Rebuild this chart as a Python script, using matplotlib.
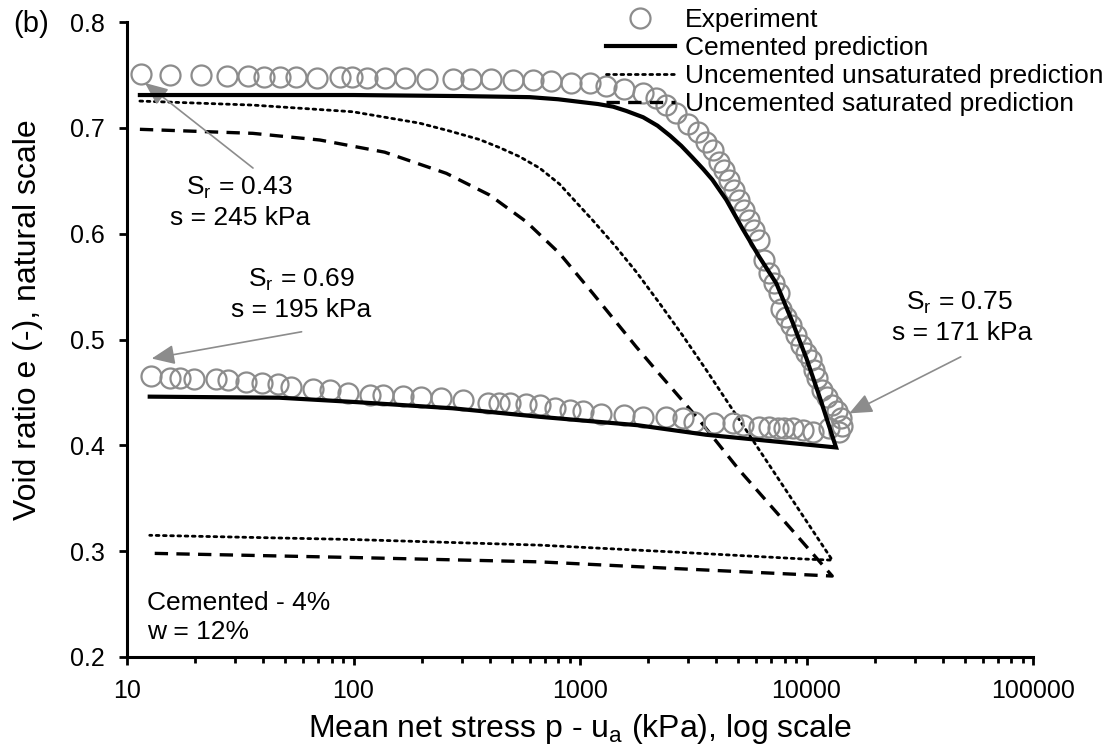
import matplotlib
matplotlib.use('Agg')
from matplotlib import pyplot as plt
from matplotlib.ticker import FixedLocator, LogLocator, NullFormatter
import numpy as np

plt.rcParams['font.family'] = ['Liberation Sans', 'DejaVu Sans']
plt.rcParams['mathtext.fontset'] = 'custom'
plt.rcParams['mathtext.rm'] = 'Liberation Sans'

# experiment: loading branch then unloading branch (p in kPa, e)
exp_load_p = [11.5, 15.5, 21.3, 27.7, 34.3, 40.2, 47.3, 56, 68.7, 86.9, 98.6, 115, 138, 168,
              211, 275, 331, 405, 505, 620, 746, 914, 1102, 1306, 1572, 1892, 2167, 2400,
              2656, 2988, 3309, 3603, 3855, 4124, 4338, 4565, 4803, 5053, 5316, 5592, 5883,
              6190, 6492, 6830, 7184, 7557, 7682, 8083, 8504, 8949, 9414, 9904, 10420,
              10787, 11150, 11735, 12345, 12993, 13665, 14130, 14380, 13900]
exp_load_e = [0.751, 0.750, 0.750, 0.749, 0.749, 0.748, 0.748, 0.748, 0.747, 0.748, 0.748,
              0.747, 0.747, 0.747, 0.746, 0.746, 0.746, 0.746, 0.745, 0.745, 0.744, 0.742,
              0.742, 0.740, 0.737, 0.733, 0.728, 0.722, 0.714, 0.704, 0.696, 0.687, 0.679,
              0.668, 0.660, 0.651, 0.641, 0.632, 0.622, 0.613, 0.603, 0.594, 0.575, 0.5625,
              0.553, 0.5435, 0.529, 0.5215, 0.5137, 0.5043, 0.4947, 0.4868, 0.4805, 0.471,
              0.4635, 0.452, 0.446, 0.438, 0.432, 0.4255, 0.418, 0.413]
exp_unload_p = [12600, 10640, 9610, 8677, 7978, 7452, 6850, 6190, 5222, 4718, 3917, 3198,
                2839, 2399, 1892, 1572, 1241, 1029, 899, 772, 663, 579, 489, 441, 392, 304,
                244, 199.5, 165.5, 135, 118, 94.6, 78.6, 66.3, 53.2, 46.5, 39.3, 33.5, 28,
                24.7, 19.8, 17.1, 15.5, 12.7]
exp_unload_e = [0.416, 0.4128, 0.4144, 0.416, 0.416, 0.416, 0.4175, 0.4175, 0.419, 0.4207,
                0.4207, 0.422, 0.4254, 0.427, 0.427, 0.4285, 0.430, 0.432, 0.433, 0.4355,
                0.438, 0.439, 0.4396, 0.4402, 0.4402, 0.4427, 0.4443, 0.4453, 0.4465,
                0.4475, 0.4475, 0.449, 0.452, 0.4528, 0.4553, 0.458, 0.459, 0.460, 0.4616,
                0.4625, 0.4623, 0.4632, 0.4632, 0.4654]

# cemented prediction (loading to 13500 kPa, then unloading)
cem_p = [11.4, 100, 300, 600, 800, 1000, 1200, 1400, 1600, 1900, 2200, 2500, 2800, 3136,
         3500, 3840, 4424, 5209, 6190, 7360, 8650, 10000, 11500, 13500,
         3600, 1800, 660, 274, 100, 47, 12.6]
cem_e = [0.731, 0.731, 0.730, 0.729, 0.727, 0.7245, 0.7225, 0.720, 0.716, 0.710, 0.702,
         0.6925, 0.683, 0.672, 0.661, 0.651, 0.632, 0.605, 0.578, 0.553, 0.517, 0.482,
         0.444, 0.398, 0.410, 0.419, 0.427, 0.435, 0.441, 0.445, 0.446]

# uncemented unsaturated prediction
unsat_p = [11.4, 35.9, 99.2, 196, 265.7, 360.4, 441.6, 541, 663, 812, 955, 1135, 1419,
           1775, 2242, 2832, 3613, 13000, 9950, 2558, 663, 100, 12.6]
unsat_e = [0.7253, 0.7215, 0.7152, 0.7044, 0.6970, 0.6889, 0.6813, 0.6728, 0.6620, 0.6469,
           0.6304, 0.6129, 0.5892, 0.5637, 0.5344, 0.5042, 0.4711, 0.2915, 0.2925, 0.2993,
           0.3057, 0.311, 0.315]

# uncemented saturated prediction
sat_p = [11.4, 35.9, 71, 137.3, 257, 399, 579, 812, 1139, 1769, 2168, 3365, 5050, 8390,
         12990, 2558, 663, 100, 12.6]
sat_e = [0.6986, 0.6948, 0.6885, 0.677, 0.657, 0.6365, 0.6113, 0.5814, 0.5436, 0.4932,
         0.471, 0.4238, 0.3766, 0.323, 0.2765, 0.2837, 0.2899, 0.294, 0.298]

x_ticks = [10, 100, 1000, 10000, 100000]
x_tick_labels = ['10', '100', '1000', '10000', '100000']
y_ticks = [0.2, 0.3, 0.4, 0.5, 0.6, 0.7, 0.8]
y_tick_labels = ['0.2', '0.3', '0.4', '0.5', '0.6', '0.7', '0.8']

grey = '#8c8c8c'

fig = plt.figure(figsize=(11.18, 7.51), dpi=100)
ax = fig.add_axes([127 / 1118, 1 - 657 / 751, (1033 - 127) / 1118, (657 - 22) / 751])

ax.plot(exp_load_p + exp_unload_p, exp_load_e + exp_unload_e, linestyle='none',
        marker='o', markersize=14.4, markerfacecolor='none', markeredgecolor=grey,
        markeredgewidth=1.6, label='Experiment', zorder=3)
ax.plot(cem_p, cem_e, color='black', lw=3, solid_joinstyle='miter',
        label='Cemented prediction', zorder=4)
ax.plot(unsat_p, unsat_e, color='black', lw=2, linestyle=(0, (1, 1.6)),
        dash_capstyle='round', label='Uncemented unsaturated prediction', zorder=2)
ax.plot(sat_p, sat_e, color='black', lw=2.4, linestyle=(0, (4, 2.5)),
        label='Uncemented saturated prediction', zorder=2)

ax.set_xscale('log')
ax.set_xlim(10, 100000)
ax.set_ylim(0.2, 0.8)
ax.xaxis.set_major_locator(FixedLocator(x_ticks))
ax.set_xticklabels(x_tick_labels)
ax.xaxis.set_minor_locator(LogLocator(base=10, subs=np.arange(2, 10), numticks=20))
ax.xaxis.set_minor_formatter(NullFormatter())
ax.set_yticks(y_ticks)
ax.set_yticklabels(y_tick_labels)

for side in ['top', 'right']:
    ax.spines[side].set_visible(False)
for side in ['left', 'bottom']:
    ax.spines[side].set_linewidth(2.2)
ax.tick_params(axis='both', which='major', direction='out', length=6, width=2,
               labelsize=18, pad=10)
ax.tick_params(axis='x', which='minor', direction='out', length=4, width=2)

ax.set_xlabel('Mean net stress p - u$_\\mathregular{a}$ (kPa), log scale', fontsize=23,
              va='top')
ax.xaxis.set_label_coords(0.5, -(712 - 657) / 635)
ax.set_ylabel('Void ratio e (-), natural scale', fontsize=23, va='center')
ax.yaxis.set_label_coords(-(127 - 28) / 906, (657 - 320) / 635)

fig.text(13 / 1118, 1 - 24 / 751, '(b)', fontsize=21, va='center', ha='left')

# arrows and state labels
arrow_kw = dict(arrowstyle='-|>,head_length=0.7,head_width=0.3', color=grey, lw=1.2,
                mutation_scale=20, shrinkA=0, shrinkB=0)
ax.annotate('', xy=(12.0, 0.7424), xytext=(36.0, 0.662), arrowprops=arrow_kw)
ax.annotate('', xy=(12.85, 0.482), xytext=(59.0, 0.5073), arrowprops=arrow_kw)
ax.annotate('', xy=(15435, 0.4302), xytext=(47970, 0.4836), arrowprops=arrow_kw)

txt = dict(fontsize=19, ha='center', va='center')
ax.text(31.5, 0.643, 'S$_\\mathregular{r}$ = 0.43', **txt)
ax.text(31.5, 0.6147, 's = 245 kPa', **txt)
ax.text(59.0, 0.556, 'S$_\\mathregular{r}$ = 0.69', **txt)
ax.text(59.0, 0.528, 's = 195 kPa', **txt)
ax.text(47200, 0.5344, 'S$_\\mathregular{r}$ = 0.75', **txt)
ax.text(48500, 0.506, 's = 171 kPa', **txt)
ax.text(12.25, 0.2508, 'Cemented - 4%', fontsize=19, ha='left', va='center')
ax.text(12.25, 0.2233, 'w = 12%', fontsize=19, ha='left', va='center')

ax.legend(loc='upper left', bbox_to_anchor=(606 / 1118, 1 - 8 / 751),
          bbox_transform=fig.transFigure, frameon=False, fontsize=19, numpoints=1,
          handlelength=2.6, handletextpad=0.4, labelspacing=0.15, borderpad=0,
          borderaxespad=0)

fig.savefig('out.png', dpi=100)
